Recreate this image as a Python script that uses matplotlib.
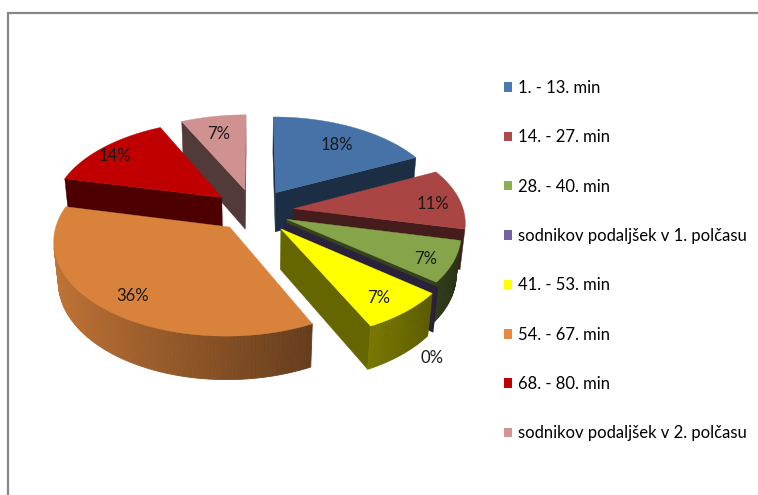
import numpy as np
import matplotlib
matplotlib.use("Agg")
import matplotlib.pyplot as plt
from matplotlib.patches import Polygon, Patch
from matplotlib.colors import to_rgb

# ── data ──────────────────────────────────────────────────────────────────────
labels = ["1. - 13. min", "14. - 27. min", "28. - 40. min",
          "sodnikov podaljšek v 1. polčasu", "41. - 53. min", "54. - 67. min",
          "68. - 80. min", "sodnikov podaljšek v 2. polčasu"]
goals = [5, 3, 2, 0, 2, 10, 4, 2]
colors = ["#4672A8", "#A94543", "#86A44A", "#6A5590",
          "#FFFF00", "#D9823C", "#C00000", "#D09191"]
legend_colors = ["#4A7AB4", "#B04A48", "#8EAE52", "#7560A0",
                 "#FFFF00", "#E58A40", "#C00000", "#D59494"]
explode = [42, 40, 36, 40, 42, 38, 42, 42]
label_r = [0.78, 0.84, 0.84, 1.0, 0.8, 0.8, 0.9, 0.8]

# ── 3D pie geometry (pixel units) ─────────────────────────────────────────────
W, H_PX = 758, 495
CX, CY = 254, 211
R = 170
ELEV = np.radians(32)
THICK = 48
DIST = 1100
CAM = np.array([0.0, -DIST * np.cos(ELEV), DIST * np.sin(ELEV)])


def proj(X, Y, Z):
    depth = DIST + Y * np.cos(ELEV) - Z * np.sin(ELEV)
    s = DIST / depth
    up = Y * np.sin(ELEV) + Z * np.cos(ELEV)
    return CX + X * s, CY - up * s


def shade(c, f):
    return tuple(min(1.0, v * f) for v in to_rgb(c))


def visible(p, n):
    return np.dot(CAM - np.asarray(p), n) > 0


fig = plt.figure(figsize=(W / 100, H_PX / 100), dpi=100)
ax = fig.add_axes([0, 0, 1, 1])
ax.set_xlim(0, W)
ax.set_ylim(H_PX, 0)
ax.axis("off")
plt.rcParams["font.family"] = ["Lato", "DejaVu Sans"]

# chart border (only top and left fall inside the picture)
ax.plot([8, 8, W + 5], [H_PX + 5, 13, 13], color="#868686", lw=1.6,
        solid_joinstyle="miter", zorder=1)

total = sum(goals)
fracs = np.array(goals) / total
cw0 = np.concatenate([[0], np.cumsum(fracs)[:-1]]) * 360
cw1 = cw0 + fracs * 360

slices = []
for i in range(len(goals)):
    a0, a1 = 90 - cw1[i], 90 - cw0[i]
    mid = np.radians((a0 + a1) / 2)
    apex = np.array([explode[i] * np.cos(mid), explode[i] * np.sin(mid)])
    cen = apex + 0.5 * R * np.array([np.cos(mid), np.sin(mid)])
    dist = np.linalg.norm(CAM - np.array([cen[0], cen[1], 0]))
    slices.append(dict(i=i, a0=a0, a1=a1, mid=mid, apex=apex, dist=dist))

z = 2
for sl in sorted(slices, key=lambda d: -d["dist"]):
    i, a0, a1, apex = sl["i"], sl["a0"], sl["a1"], sl["apex"]
    col = colors[i]
    th = np.radians(np.linspace(a0, a1, max(2, int(abs(a1 - a0)) + 2)))
    rim = [(apex[0] + R * np.cos(t), apex[1] + R * np.sin(t)) for t in th]

    # radial faces
    for t, sign in ((np.radians(a0), 1), (np.radians(a1), -1)):
        n = sign * np.array([np.sin(t), -np.cos(t), 0])
        if not visible([apex[0], apex[1], 0], n) and goals[i] > 0:
            continue
        if goals[i] == 0 and sign < 0:
            continue
        rx, ry = apex[0] + R * np.cos(t), apex[1] + R * np.sin(t)
        pts = [proj(apex[0], apex[1], 0), proj(rx, ry, 0),
               proj(rx, ry, -THICK), proj(apex[0], apex[1], -THICK)]
        fc = shade(col, 0.4)
        ax.add_patch(Polygon(pts, closed=True, fc=fc, ec=fc,
                             lw=2.2 if goals[i] == 0 else 0.3, zorder=z))
        z += 1

    # outer wall
    for j in range(len(th) - 1):
        tm = 0.5 * (th[j] + th[j + 1])
        p = [apex[0] + R * np.cos(tm), apex[1] + R * np.sin(tm), 0]
        if not visible(p, np.array([np.cos(tm), np.sin(tm), 0])):
            continue
        (x0, y0), (x1, y1) = rim[j], rim[j + 1]
        pts = [proj(x0, y0, 0), proj(x1, y1, 0),
               proj(x1, y1, -THICK), proj(x0, y0, -THICK)]
        fc = shade(col, 0.6 - 0.3 * np.cos(tm))
        ax.add_patch(Polygon(pts, closed=True, fc=fc, ec=fc, lw=0.6, zorder=z))
    z += 1

    # top face
    if goals[i] > 0:
        pts = [proj(apex[0], apex[1], 0)] + [proj(x, y, 0) for x, y in rim]
        ax.add_patch(Polygon(pts, closed=True, fc=col, ec=col, lw=0.3, zorder=z))
        z += 1

# ── percentage labels ─────────────────────────────────────────────────────────
for sl in slices:
    i, mid, apex = sl["i"], sl["mid"], sl["apex"]
    pct = f"{round(100 * goals[i] / total)}%"
    rr = label_r[i] * R
    if goals[i] == 0:
        x, y = proj(apex[0] + rr * np.cos(mid), apex[1] + rr * np.sin(mid), -THICK)
        x, y = x, y + 28
    else:
        x, y = proj(apex[0] + rr * np.cos(mid), apex[1] + rr * np.sin(mid), 0)
        y += 4
    ax.text(x, y, pct, ha="center", va="center", fontsize=12,
            color="#1a1a1a", zorder=200)

# ── legend ────────────────────────────────────────────────────────────────────
handles = [Patch(fc=c, ec="none") for c in legend_colors]
ax.legend(handles, labels, loc="upper left", bbox_to_anchor=(504 / W, 1 - 80 / H_PX),
          frameon=False, fontsize=12, handlelength=0.5, handleheight=0.5,
          handletextpad=0.35, labelspacing=2.0, borderaxespad=0, borderpad=0)

fig.savefig("out.png", dpi=100)
